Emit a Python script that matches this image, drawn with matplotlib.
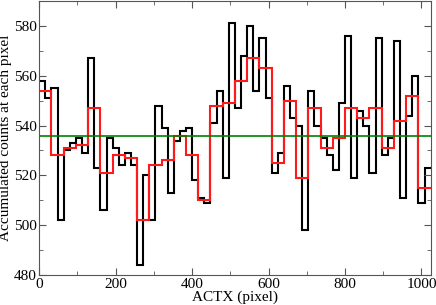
import numpy as np
import matplotlib
matplotlib.use("Agg")
import matplotlib.pyplot as plt
from matplotlib.ticker import MultipleLocator

# fine binning (16 pixels per bin)
fine_counts = [558, 551, 555, 502, 530, 533, 535, 529, 567, 523, 506, 535, 531, 524, 529, 524,
               484, 520, 502, 548, 539, 513, 534, 538, 539, 518, 511, 509, 541, 554, 519, 581,
               547, 568, 580, 554, 575, 551, 521, 529, 556, 543, 540, 498, 554, 540, 535, 528,
               522, 549, 576, 519, 546, 540, 521, 575, 528, 535, 574, 511, 544, 560, 509, 523]
# coarse binning (32 pixels per bin)
coarse_counts = [554, 528, 531, 532, 547, 521, 528, 527, 502, 524, 526, 536, 528, 510, 548, 549,
                 558, 567, 563, 525, 550, 519, 547, 531, 535, 547, 543, 547, 531, 542, 552, 515]
mean_level = 536

fine_edges = np.arange(len(fine_counts) + 1) * 16
coarse_edges = np.arange(len(coarse_counts) + 1) * 32

plt.rcParams['font.family'] = ['Liberation Serif', 'DejaVu Serif']

fig = plt.figure(figsize=(4.36, 3.05), dpi=100)
ax = fig.add_axes([0.09, 0.098, 0.8995, 0.899])

ax.stairs(fine_counts, fine_edges, baseline=None, color='black', linewidth=1.5)
ax.stairs(coarse_counts, coarse_edges, baseline=None, color='#ff1a1a', linewidth=1.5)
ax.axhline(mean_level, color='#008000', linewidth=1.2)

ax.set_xlim(0, 1026)
ax.set_ylim(480, 590)
ax.xaxis.set_major_locator(MultipleLocator(200))
ax.xaxis.set_minor_locator(MultipleLocator(100))
ax.yaxis.set_major_locator(MultipleLocator(20))
ax.yaxis.set_minor_locator(MultipleLocator(10))
ax.tick_params(which='both', direction='in', top=True, right=True, color='#555555',
               labelsize=11, pad=2)
ax.tick_params(which='major', length=5)
ax.tick_params(which='minor', length=3)
for s in ax.spines.values():
    s.set_color('#555555')

ax.set_xlabel('ACTX (pixel)', fontsize=11, labelpad=0)
ax.set_ylabel('Accumulated counts at each pixel', fontsize=11, labelpad=1)

fig.savefig('out.png', dpi=100)
